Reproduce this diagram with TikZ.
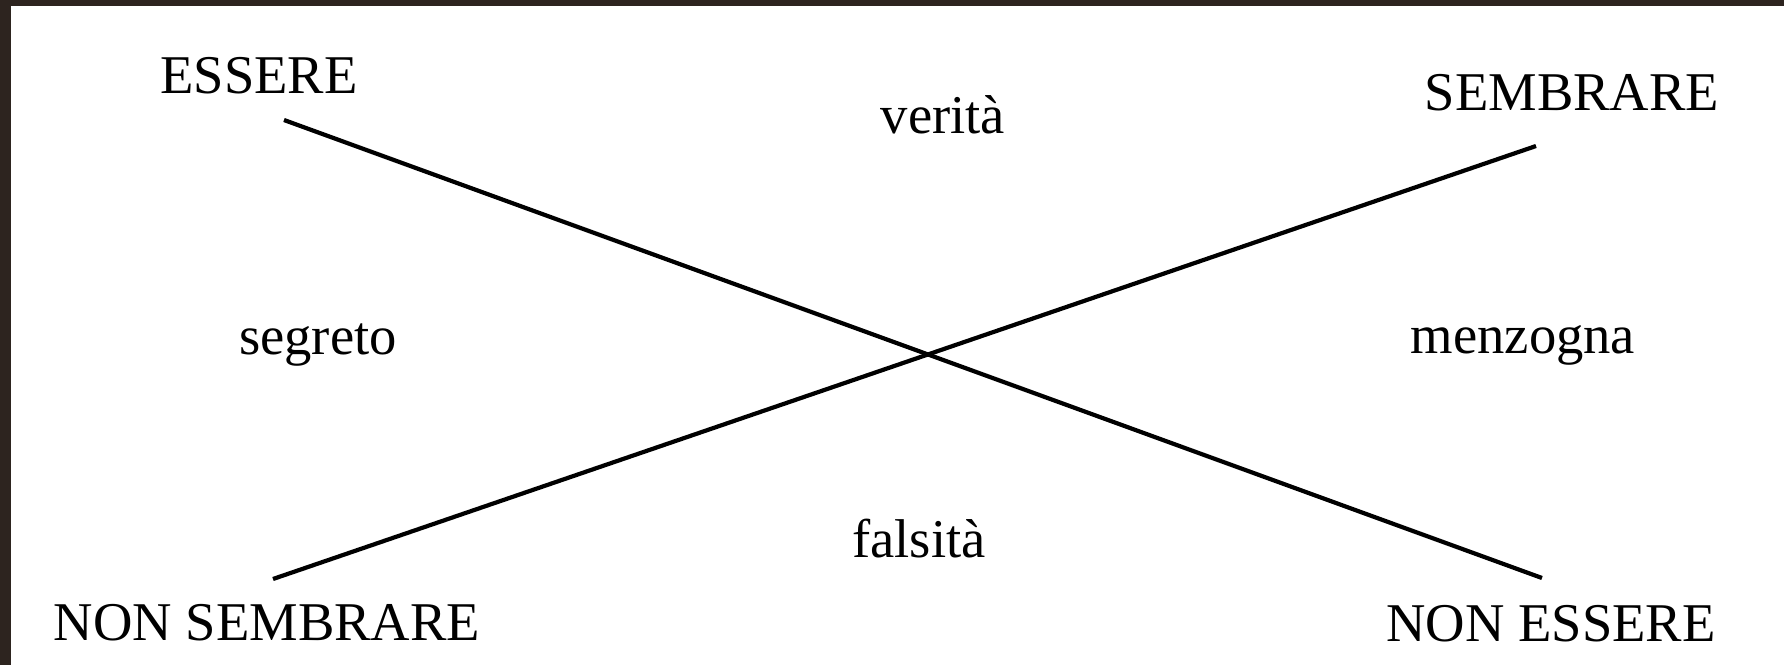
\documentclass[tikz,border=0pt]{standalone}
\usepackage{fontspec}
\setmainfont{Liberation Serif}
\usepackage{tikz}
\definecolor{frame}{RGB}{45,36,31}

\begin{document}
\begin{tikzpicture}[x=0.5pt, y=-0.5pt,
    word/.style={anchor=base, inner sep=0pt, font=\fontsize{27.3}{30}\selectfont},
    bar/.style={line width=2.1pt, draw=black}]

% frame and page
\fill [frame] (0,0) rectangle (1784,665);
\fill [white] (11,6) rectangle (1784,665);
\useasboundingbox (0,0) rectangle (1784,665);

% corners of the square
\node [word] (ess) at (259,93) {ESSERE};
\node [word] (sem) at (1572,110) {SEMBRARE};
\node [word] (nsem) at (267,640) {NON SEMBRARE};
\node [word] (ness) at (1551,641) {NON ESSERE};

% the four terms
\node [word] (ver) at (943,133) {verità};
\node [word] (seg) at (318,354) {segreto};
\node [word] (men) at (1523,353) {menzogna};
\node [word] (fal) at (919,557) {falsità};

\coordinate (essA) at (284,120);
\coordinate (nessA) at (1542,578);
\coordinate (semA) at (1536,146);
\coordinate (nsemA) at (273,579);

\draw [bar] (essA) -- (nessA);
\draw [bar] (nsemA) -- (semA);

\end{tikzpicture}
\end{document}
